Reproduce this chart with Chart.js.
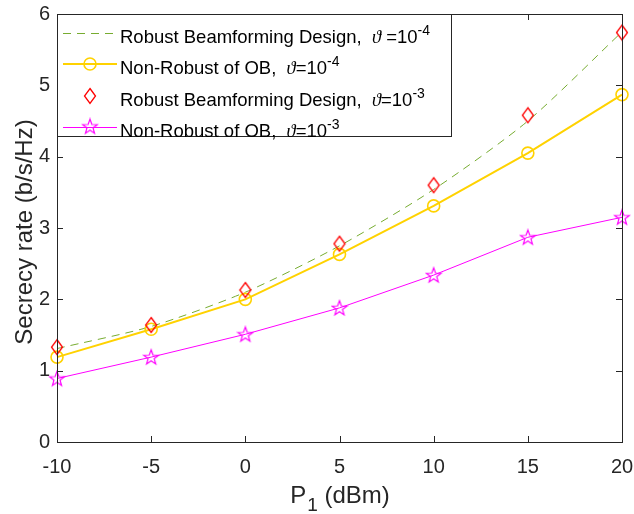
<!DOCTYPE html>
<html>
<head>
<meta charset="utf-8">
<script src="https://cdn.jsdelivr.net/npm/chart.js@4.4.0/dist/chart.umd.min.js"></script>
<style>
  html, body { margin: 0; padding: 0; background: #fff; }
  #wrap { width: 634px; height: 514px; position: relative; }
</style>
</head>
<body>
<div id="wrap"><canvas id="chart" width="634" height="514"></canvas></div>
<script>
// x axis: transmit power P1 (dBm)
const powerDbm = [-10, -5, 0, 5, 10, 15, 20];

// secrecy rate (b/s/Hz)
const robustE4 = [1.31, 1.62, 2.1, 2.75, 3.54, 4.5, 5.75];
const nonRobustE4 = [1.19, 1.58, 2.0, 2.63, 3.31, 4.05, 4.87];
const robustE3 = [1.33, 1.64, 2.13, 2.78, 3.6, 4.58, 5.74];
const nonRobustE3 = [0.89, 1.19, 1.51, 1.88, 2.34, 2.87, 3.15];

const xTicks = [-10, -5, 0, 5, 10, 15, 20];
const yTicks = [0, 1, 2, 3, 4, 5, 6];

const GREEN = "#77AC30";
const YELLOW = "#FFD200";
const RED = "#FF0000";
const MAGENTA = "#FF00FF";
const AXIS = "#262626";
const FONT = "'Liberation Sans', Arial, Helvetica, sans-serif";

function toPoints(ys) {
  return powerDbm.map((x, i) => ({ x: x, y: ys[i] }));
}

// hollow marker sprites
function makeDiamond(color) {
  const c = document.createElement("canvas");
  c.width = 14; c.height = 18;
  const g = c.getContext("2d");
  g.strokeStyle = color; g.lineWidth = 1.3;
  g.beginPath();
  g.moveTo(7, 1.5); g.lineTo(12.5, 9); g.lineTo(7, 16.5); g.lineTo(1.5, 9);
  g.closePath(); g.stroke();
  return c;
}

function makeStar(color) {
  const c = document.createElement("canvas");
  c.width = 18; c.height = 18;
  const g = c.getContext("2d");
  g.strokeStyle = color; g.lineWidth = 1.2;
  g.beginPath();
  for (let i = 0; i < 10; i++) {
    const r = i % 2 === 0 ? 7.8 : 3.2;
    const a = -Math.PI / 2 + (i * Math.PI) / 5;
    const px = 9 + r * Math.cos(a);
    const py = 9.6 + r * Math.sin(a);
    if (i === 0) g.moveTo(px, py); else g.lineTo(px, py);
  }
  g.closePath(); g.stroke();
  return c;
}

const diamondImg = makeDiamond(RED);
const starImg = makeStar(MAGENTA);

// axes box, inner ticks, axis titles and legend
const matlabLook = {
  id: "matlabLook",
  afterDraw(chart) {
    const ctx = chart.ctx;
    const a = chart.chartArea;
    const xs = chart.scales.x;
    const ys = chart.scales.y;
    ctx.save();
    ctx.strokeStyle = AXIS;
    ctx.lineWidth = 1;
    ctx.strokeRect(Math.round(a.left) + 0.5, Math.round(a.top) + 0.5,
      Math.round(a.right - a.left), Math.round(a.bottom - a.top));
    ctx.beginPath();
    xTicks.forEach((v) => {
      const px = Math.round(xs.getPixelForValue(v)) + 0.5;
      ctx.moveTo(px, a.bottom); ctx.lineTo(px, a.bottom - 6);
      ctx.moveTo(px, a.top); ctx.lineTo(px, a.top + 6);
    });
    yTicks.forEach((v) => {
      const py = Math.round(ys.getPixelForValue(v)) + 0.5;
      ctx.moveTo(a.left, py); ctx.lineTo(a.left + 6, py);
      ctx.moveTo(a.right, py); ctx.lineTo(a.right - 6, py);
    });
    ctx.stroke();

    // axis titles
    ctx.fillStyle = AXIS;
    ctx.textBaseline = "alphabetic";
    ctx.font = "24px " + FONT;
    const pW = ctx.measureText("P").width;
    ctx.font = "19px " + FONT;
    const subW = ctx.measureText("1").width;
    ctx.font = "24px " + FONT;
    const restW = ctx.measureText(" (dBm)").width;
    let tx = (a.left + a.right) / 2 - (pW + subW + restW) / 2;
    ctx.textAlign = "left";
    ctx.fillText("P", tx, 503);
    ctx.font = "19px " + FONT;
    ctx.fillText("1", tx + pW + 1, 511);
    ctx.font = "24px " + FONT;
    ctx.fillText(" (dBm)", tx + pW + subW + 1, 503);

    ctx.save();
    ctx.translate(32, 232);
    ctx.rotate(-Math.PI / 2);
    ctx.textAlign = "center";
    ctx.fillText("Secrecy rate (b/s/Hz)", 0, 0);
    ctx.restore();

    // legend
    const box = { x: 57.5, y: 14.5, w: 394, h: 122 };
    ctx.fillStyle = "#fff";
    ctx.fillRect(box.x, box.y, box.w, box.h);
    ctx.strokeStyle = AXIS;
    ctx.strokeRect(box.x, box.y, box.w, box.h);

    const rows = [
      { y: 33, label: "Robust Beamforming Design,  ", eq: " =10", sup: "-4", kind: "dash" },
      { y: 64, label: "Non-Robust of OB,  ", eq: "=10", sup: "-4", kind: "circle" },
      { y: 96, label: "Robust Beamforming Design,  ", eq: "=10", sup: "-3", kind: "diamond" },
      { y: 127, label: "Non-Robust of OB,  ", eq: "=10", sup: "-3", kind: "star" }
    ];
    rows.forEach((r) => {
      const y = r.y;
      ctx.save();
      if (r.kind === "dash") {
        ctx.strokeStyle = GREEN; ctx.lineWidth = 1;
        ctx.setLineDash([8, 6]);
        ctx.beginPath(); ctx.moveTo(63, y + 0.5); ctx.lineTo(117, y + 0.5); ctx.stroke();
      } else if (r.kind === "circle") {
        ctx.strokeStyle = YELLOW; ctx.lineWidth = 2;
        ctx.beginPath(); ctx.moveTo(63, y); ctx.lineTo(117, y); ctx.stroke();
        ctx.lineWidth = 1.6;
        ctx.beginPath(); ctx.arc(90, y, 6, 0, Math.PI * 2); ctx.stroke();
      } else if (r.kind === "diamond") {
        ctx.drawImage(diamondImg, 90 - 7, y - 9);
      } else {
        ctx.strokeStyle = MAGENTA; ctx.lineWidth = 1;
        ctx.beginPath(); ctx.moveTo(63, y + 0.5); ctx.lineTo(117, y + 0.5); ctx.stroke();
        ctx.drawImage(starImg, 90 - 9, y - 9.6);
      }
      ctx.restore();

      ctx.fillStyle = "#000";
      ctx.textAlign = "left";
      let x = 120;
      const base = y + 10;
      ctx.font = "18.5px " + FONT;
      ctx.fillText(r.label, x, base);
      x += ctx.measureText(r.label).width;
      ctx.font = "italic 18.5px 'Liberation Serif', 'DejaVu Serif', serif";
      ctx.fillText("\u03D1", x, base);
      x += ctx.measureText("\u03D1").width;
      ctx.font = "18.5px " + FONT;
      ctx.fillText(r.eq, x, base);
      x += ctx.measureText(r.eq).width;
      ctx.font = "14px " + FONT;
      ctx.fillText(r.sup, x, base - 8);
    });
    ctx.restore();
  }
};

new Chart(document.getElementById("chart"), {
  type: "line",
  data: {
    datasets: [
      {
        label: "Robust Beamforming Design, 1e-4",
        data: toPoints(robustE4),
        borderColor: GREEN,
        borderWidth: 1,
        borderDash: [8, 6],
        pointRadius: 0,
        tension: 0.25,
        clip: false,
        order: 4
      },
      {
        label: "Non-Robust of OB, 1e-4",
        data: toPoints(nonRobustE4),
        borderColor: YELLOW,
        borderWidth: 2,
        pointStyle: "circle",
        pointRadius: 6,
        pointBorderWidth: 1.6,
        pointBackgroundColor: "rgba(0,0,0,0)",
        pointBorderColor: YELLOW,
        clip: false,
        order: 3
      },
      {
        label: "Robust Beamforming Design, 1e-3",
        data: toPoints(robustE3),
        showLine: false,
        pointStyle: diamondImg,
        pointRadius: 7,
        clip: false,
        order: 2
      },
      {
        label: "Non-Robust of OB, 1e-3",
        data: toPoints(nonRobustE3),
        borderColor: MAGENTA,
        borderWidth: 1,
        pointStyle: starImg,
        pointRadius: 8,
        clip: false,
        order: 1
      }
    ]
  },
  options: {
    responsive: false,
    animation: false,
    layout: { padding: { left: 0, right: 12, top: 14, bottom: 0 } },
    plugins: { legend: { display: false }, tooltip: { enabled: false } },
    scales: {
      x: {
        type: "linear",
        min: -10,
        max: 20,
        afterBuildTicks: (s) => { s.ticks = xTicks.map((v) => ({ value: v })); },
        afterFit: (s) => { s.height = 72; s.paddingLeft = 0; s.paddingRight = 0; },
        grid: { display: false, drawTicks: false },
        border: { display: false },
        ticks: { color: AXIS, font: { family: FONT, size: 20 }, padding: 13, maxRotation: 0 }
      },
      y: {
        type: "linear",
        min: 0,
        max: 6,
        afterBuildTicks: (s) => { s.ticks = yTicks.map((v) => ({ value: v })); },
        afterFit: (s) => { s.width = 57; s.paddingTop = 0; s.paddingBottom = 0; },
        grid: { display: false, drawTicks: false },
        border: { display: false },
        ticks: { color: AXIS, font: { family: FONT, size: 20 }, padding: 7 }
      }
    }
  },
  plugins: [matlabLook]
});
</script>
</body>
</html>
